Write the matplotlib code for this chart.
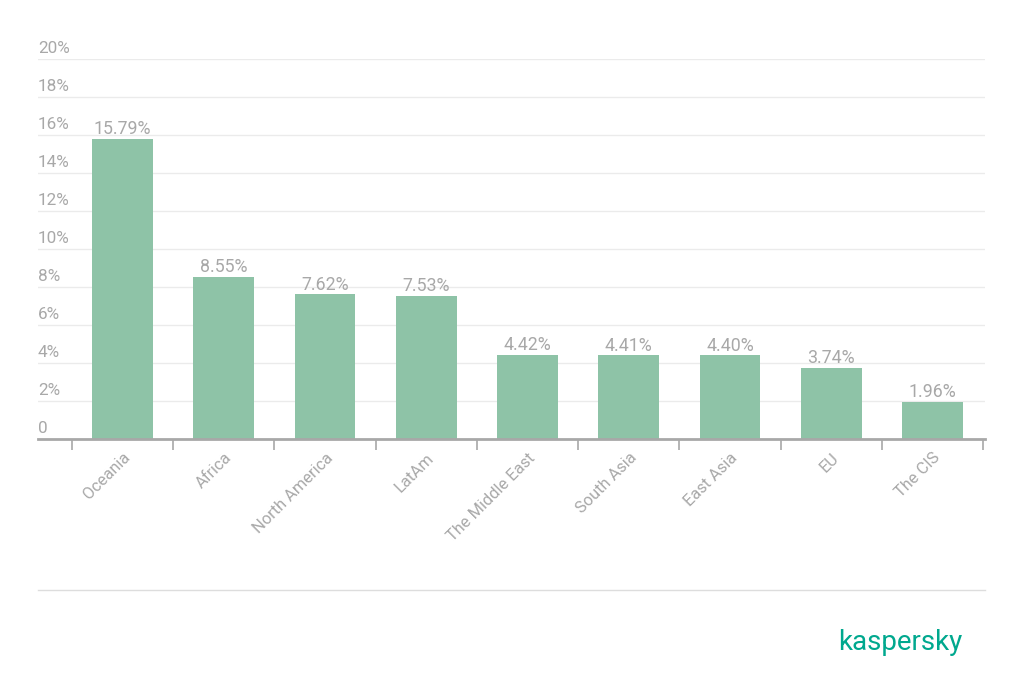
import matplotlib
matplotlib.use("Agg")
import matplotlib.pyplot as plt
from matplotlib.lines import Line2D
import numpy as np

categories = ["Oceania", "Africa", "North America", "LatAm", "The Middle East",
              "South Asia", "East Asia", "EU", "The CIS"]
values = [15.79, 8.55, 7.62, 7.53, 4.42, 4.41, 4.40, 3.74, 1.96]
yticks = [0, 2, 4, 6, 8, 10, 12, 14, 16, 18, 20]
ytick_labels = ["0", "2%", "4%", "6%", "8%", "10%", "12%", "14%", "16%", "18%", "20%"]

plt.rcParams['font.family'] = ['Roboto', 'DejaVu Sans']
gray = "#a8a8a8"
bar_color = "#8ec3a7"

W, H = 1024, 695
fig = plt.figure(figsize=(W / 100, H / 100), dpi=100)
left, right = 38 / W, 985 / W
bottom, top = 1 - 439 / H, 1 - 59 / H
ax = fig.add_axes([left, bottom, right - left, top - bottom])

x = np.arange(len(categories))
ax.bar(x, values, width=0.6, color=bar_color, zorder=3)

ax.set_xlim(-0.836, 8.52)
ax.set_ylim(0, 20)

for v in yticks[1:]:
    ax.axhline(v, color="#ebebeb", linewidth=1, zorder=1)

for v, lab in zip(yticks, ytick_labels):
    ax.annotate(lab, xy=(0, v), xycoords=('axes fraction', 'data'),
                xytext=(0, 2), textcoords='offset points',
                ha='left', va='bottom', fontsize=12.3, color=gray)

for xi, v in zip(x, values):
    ax.annotate(f"{v:.2f}%", xy=(xi, v), xytext=(0, 0.5), textcoords='offset points',
                ha='center', va='bottom', fontsize=12.8, color=gray, zorder=4)

ax.set_yticks([])
ax.set_xticks(x)
ax.set_xticklabels(categories, rotation=45, ha='right', rotation_mode='anchor',
                   fontsize=11.8, color=gray)
ax.tick_params(axis='x', which='major', length=0, pad=8)
ax.set_xticks(np.arange(-0.5, len(categories), 1), minor=True)
ax.tick_params(axis='x', which='minor', length=8, width=1.2, color=gray, direction='out')

for s in ['top', 'right', 'left']:
    ax.spines[s].set_visible(False)
ax.spines['bottom'].set_color(gray)
ax.spines['bottom'].set_linewidth(2)
ax.spines['bottom'].set_zorder(5)

fig.add_artist(Line2D([38 / W, 985 / W], [1 - 590 / H, 1 - 590 / H],
                      color="#dddddd", linewidth=1))
fig.text(900 / W, 1 - 642 / H, "kaspersky", ha='center', va='center',
         fontsize=20, color="#00a88e", fontweight='normal')

fig.savefig("out.png", dpi=100)
